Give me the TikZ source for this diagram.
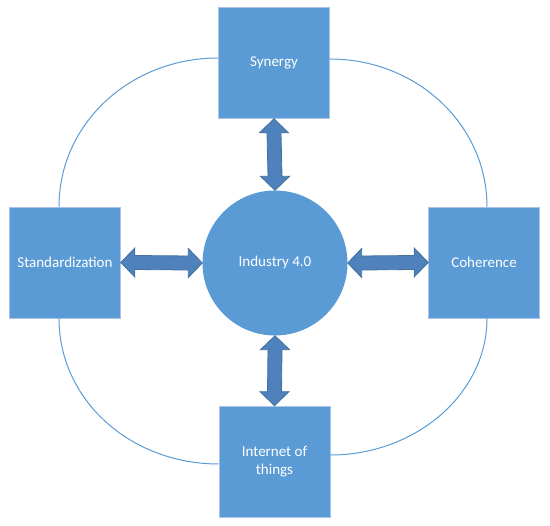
\documentclass[tikz,border=0pt]{standalone}
\usepackage{fontspec}
\setmainfont{Carlito}
\usetikzlibrary{calc}
\definecolor{boxblue}{HTML}{5B9BD5}
\definecolor{boxedge}{HTML}{A9C4E4}
\definecolor{arrfill}{HTML}{4F81BD}
\definecolor{arredge}{HTML}{41719C}
\tikzset{
  sq/.style={rectangle, fill=boxblue, draw=boxedge, line width=0.6pt, minimum width=111pt, minimum height=111pt, inner sep=0pt, text=white, font=\fontsize{15}{18}\selectfont, align=center},
  hub/.style={circle, fill=boxblue, draw=none, minimum size=145pt, inner sep=0pt, text=white, font=\fontsize{15}{18}\selectfont},
  blk/.style={fill=arrfill, draw=arredge, line width=0.8pt, line join=miter},
  link/.style={draw=boxblue, line width=1pt}
}
\begin{document}
\begin{tikzpicture}[x=1pt,y=-1pt]
\useasboundingbox (0,0) rectangle (550,526);
\node[hub] (ind) at (275,263) {Industry 4.0};
\node[sq] (syn) at (274,63) {Synergy};
\node[sq] (std) at (65,262.5) {Standardization};
\node[sq] (coh) at (484,262.5) {Coherence};
\node[sq] (iot) at (274.5,461.5) {Internet of\\things};
% curved links
\draw[link] ($(syn.west)+(0,-5)$) .. controls ($(syn.west)+(-88,-5)$) and ($(std.north)+(-6,-83)$) .. ($(std.north)+(-6,0)$);
\draw[link] ($(syn.east)+(0,-4)$) .. controls ($(syn.east)+(87,-4)$) and ($(coh.north)+(3,-82)$) .. ($(coh.north)+(3,0)$);
\draw[link] ($(std.south)+(-6,0)$) .. controls ($(std.south)+(-6,82)$) and ($(iot.west)+(-88,2.5)$) .. ($(iot.west)+(0,2.5)$);
\draw[link] ($(coh.south)+(3,0)$) .. controls ($(coh.south)+(3,75)$) and ($(iot.east)+(86,-6.5)$) .. ($(iot.east)+(0,-6.5)$);
% block double arrows (vertical)
\draw[blk] (syn.south) -- ++(14.5,14) -- ++(-7.5,0) -- ($(ind.north)+(7,-14)$) -- ($(ind.north)+(14.5,-14)$) -- (ind.north) -- ($(ind.north)+(-14.5,-14)$) -- ($(ind.north)+(-7,-14)$) -- ($(syn.south)+(-7,14)$) -- ($(syn.south)+(-14.5,14)$) -- cycle;
\draw[blk] (ind.south) -- ++(14.5,14) -- ++(-7.5,0) -- ($(iot.north)+(7,-14)$) -- ($(iot.north)+(14.5,-14)$) -- (iot.north) -- ($(iot.north)+(-14.5,-14)$) -- ($(iot.north)+(-7,-14)$) -- ($(ind.south)+(-7,14)$) -- ($(ind.south)+(-14.5,14)$) -- cycle;
% block double arrows (horizontal)
\draw[blk] (std.east) -- ++(14,-14.5) -- ++(0,7.5) -- ($(ind.west)+(-14,-7)$) -- ($(ind.west)+(-14,-14.5)$) -- (ind.west) -- ($(ind.west)+(-14,14.5)$) -- ($(ind.west)+(-14,7)$) -- ($(std.east)+(14,7)$) -- ($(std.east)+(14,14.5)$) -- cycle;
\draw[blk] (ind.east) -- ++(14,-14.5) -- ++(0,7.5) -- ($(coh.west)+(-14,-7)$) -- ($(coh.west)+(-14,-14.5)$) -- (coh.west) -- ($(coh.west)+(-14,14.5)$) -- ($(coh.west)+(-14,7)$) -- ($(ind.east)+(14,7)$) -- ($(ind.east)+(14,14.5)$) -- cycle;
\end{tikzpicture}
\end{document}
